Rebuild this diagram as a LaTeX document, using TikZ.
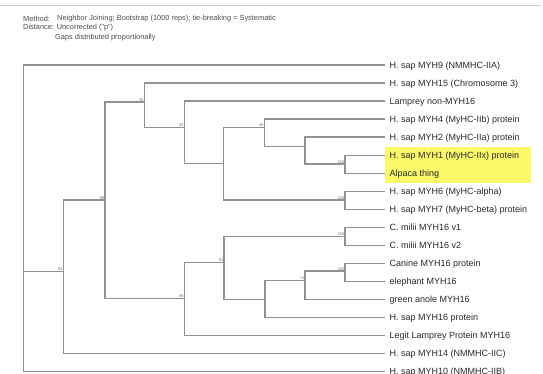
\documentclass[tikz,border=0pt]{standalone}
\usepackage{fontspec}
\setmainfont{Liberation Sans}
\definecolor{treegray}{RGB}{145,145,145}
\definecolor{hiyellow}{RGB}{250,250,105}
\definecolor{txtdark}{RGB}{40,40,40}
\usepackage{tikz}

\begin{document}
\begin{tikzpicture}[x=1pt, y=-1pt,
  branch/.style={draw=treegray, line width=1.35pt},
  leaf/.style={anchor=west, inner xsep=4.5pt, inner ysep=0pt, text height=6.4pt, text depth=0pt, text=txtdark, font=\fontsize{9}{10}\selectfont},
  head/.style={anchor=west, inner sep=0pt, text=black!70, font=\fontsize{7.4}{8}\selectfont},
  bs/.style={anchor=south east, inner sep=0.6pt, text=black!60, font=\fontsize{3.8}{4}\selectfont}
]
  \useasboundingbox (0,0) rectangle (543,373);
  \draw[black!20, line width=0.9pt] (0,5) -- (541,5);

  \node[head] (hmeth) at (23,19) {Method:};
  \node[head] (halgo) at (57,19) {Neighbor Joining; Bootstrap (1000 reps); tie-breaking = Systematic};
  \node[head] (hdist) at (23,28) {Distance: Uncorrected ("p")};
  \node[head] (hgaps) at (55,38) {Gaps distributed proportionally};

  \fill[hiyellow] (385,147) rectangle (531,183);

  \node[leaf] (l0) at (385,65.00) {H. sap MYH9 (NMMHC-IIA)};
  \node[leaf] (l1) at (385,83.04) {H. sap MYH15 (Chromosome 3)};
  \node[leaf] (l2) at (385,101.08) {Lamprey non-MYH16};
  \node[leaf] (l3) at (385,119.12) {H. sap MYH4 (MyHC-IIb) protein};
  \node[leaf] (l4) at (385,137.16) {H. sap MYH2 (MyHC-IIa) protein};
  \node[leaf] (l5) at (385,155.20) {H. sap MYH1 (MyHC-IIx) protein};
  \node[leaf] (l6) at (385,173.24) {Alpaca thing};
  \node[leaf] (l7) at (385,191.28) {H. sap MYH6 (MyHC-alpha)};
  \node[leaf] (l8) at (385,209.32) {H. sap MYH7 (MyHC-beta) protein};
  \node[leaf] (l9) at (385,227.36) {C. milii MYH16 v1};
  \node[leaf] (l10) at (385,245.40) {C. milii MYH16 v2};
  \node[leaf] (l11) at (385,263.44) {Canine MYH16 protein};
  \node[leaf] (l12) at (385,281.48) {elephant MYH16};
  \node[leaf] (l13) at (385,299.52) {green anole MYH16};
  \node[leaf] (l14) at (385,317.56) {H. sap MYH16 protein};
  \node[leaf] (l15) at (385,335.60) {Legit Lamprey Protein MYH16};
  \node[leaf] (l16) at (385,353.64) {H. sap MYH14 (NMMHC-IIC)};
  \node[leaf] (l17) at (385,371.68) {H. sap MYH10 (NMMHC-IIB)};

  \coordinate (root) at (23.3,271.7);
  \coordinate (nA) at (63.3,271.7);
  \coordinate (nB) at (105,200);
  \coordinate (nC) at (144.3,102);
  \coordinate (nE) at (184.3,127.7);
  \coordinate (nF) at (223.5,163.5);
  \coordinate (nG) at (264.3,127.7);
  \coordinate (nI) at (305,146.7);
  \coordinate (nJ) at (345,164);
  \coordinate (nH) at (345,200);
  \coordinate (nD) at (184.3,298.3);
  \coordinate (nK) at (224,262.7);
  \coordinate (nL) at (345,236.7);
  \coordinate (nM) at (265,299.3);
  \coordinate (nN) at (305,280.7);
  \coordinate (nO) at (345,271);

  \draw[branch] (root) |- (l0.west);
  \draw[branch] (root) |- (l17.west);
  \draw[branch] (root) -- (nA);
  \draw[branch] (nA) |- (nB);
  \draw[branch] (nA) |- (l16.west);
  \draw[branch] (nB) |- (nC);
  \draw[branch] (nB) |- (nD);
  \draw[branch] (nC) |- (l1.west);
  \draw[branch] (nC) |- (nE);
  \draw[branch] (nE) |- (l2.west);
  \draw[branch] (nE) |- (nF);
  \draw[branch] (nF) |- (nG);
  \draw[branch] (nF) |- (nH);
  \draw[branch] (nG) |- (l3.west);
  \draw[branch] (nG) |- (nI);
  \draw[branch] (nI) |- (l4.west);
  \draw[branch] (nI) |- (nJ);
  \draw[branch] (nJ) |- (l5.west);
  \draw[branch] (nJ) |- (l6.west);
  \draw[branch] (nH) |- (l7.west);
  \draw[branch] (nH) |- (l8.west);
  \draw[branch] (nD) |- (nK);
  \draw[branch] (nD) |- (l15.west);
  \draw[branch] (nK) |- (nL);
  \draw[branch] (nK) |- (nM);
  \draw[branch] (nL) |- (l9.west);
  \draw[branch] (nL) |- (l10.west);
  \draw[branch] (nM) |- (nN);
  \draw[branch] (nM) |- (l14.west);
  \draw[branch] (nN) |- (nO);
  \draw[branch] (nN) |- (l13.west);
  \draw[branch] (nO) |- (l11.west);
  \draw[branch] (nO) |- (l12.west);

  \node[bs] (bA) at (nA) {64};
  \node[bs] (bB) at (nB) {99};
  \node[bs] (bC) at (nC) {95};
  \node[bs] (bE) at (nE) {93};
  \node[bs] (bG) at (nG) {99};
  \node[bs] (bJ) at (nJ) {100};
  \node[bs] (bH) at (nH) {100};
  \node[bs] (bD) at (nD) {95};
  \node[bs] (bK) at (nK) {91};
  \node[bs] (bL) at (nL) {100};
  \node[bs] (bN) at (nN) {74};
  \node[bs] (bO) at (nO) {100};
\end{tikzpicture}
\end{document}
